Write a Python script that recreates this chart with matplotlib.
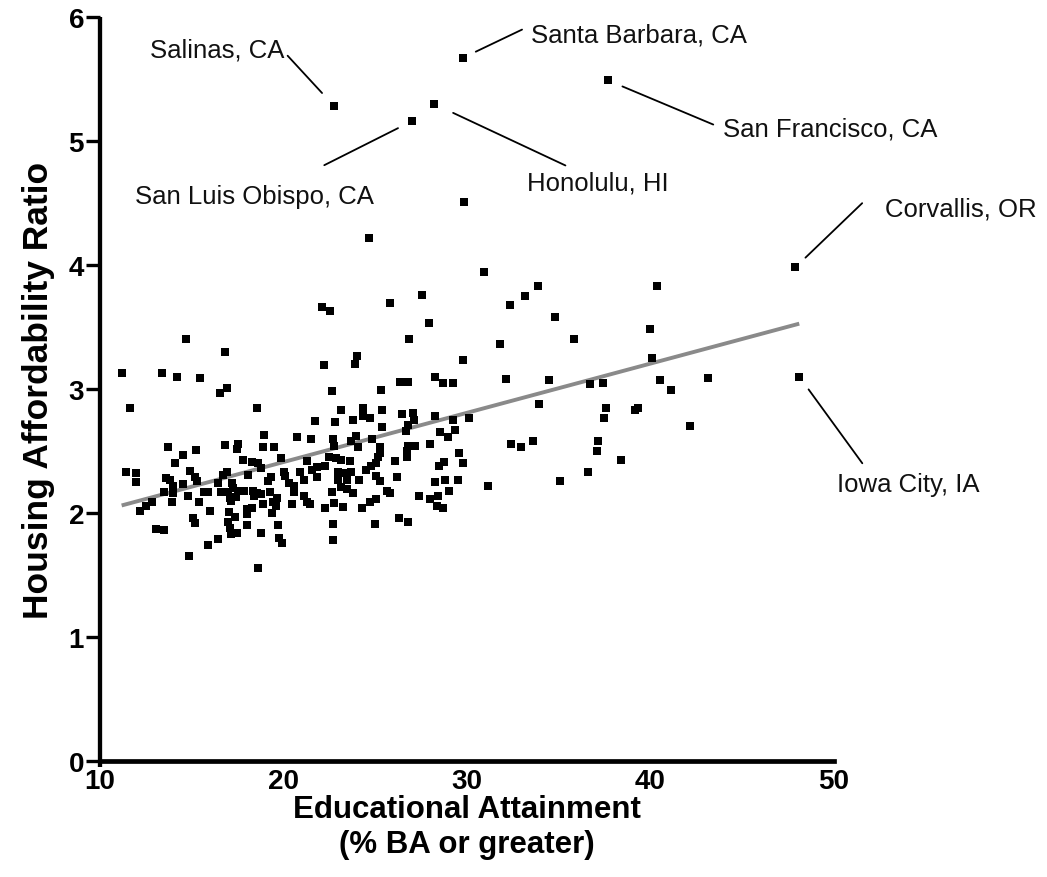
"""
  Housing affordability ratio vs educational attainment, scatter + fit line
"""

import numpy as np
import matplotlib
matplotlib.use("Agg")
import matplotlib.pyplot as plt


# % BA or greater, unlabeled metro areas
edu = [14.70, 16.80, 11.18, 13.38, 14.21, 15.47, 16.94, 16.56, 11.64, 18.54,
       18.94, 20.72, 13.69, 15.25, 16.80, 17.52, 17.48, 18.87, 19.47, 14.52,
       14.09, 17.79, 18.27, 18.59, 19.86, 11.42, 11.95, 11.98, 14.92, 15.16,
       15.29, 13.61, 13.83, 16.92, 16.70, 18.05, 18.77, 20.01, 20.10, 20.92,
       19.32, 19.14, 13.96, 14.52, 13.50, 13.96, 16.41, 17.18, 17.23, 16.59,
       16.98, 17.50, 17.86, 18.34, 18.56, 18.77, 19.28, 20.28, 20.56, 20.59,
       15.90, 15.65, 14.81, 12.82, 12.49, 12.20, 13.92, 15.38, 17.07, 17.41,
       17.14, 18.38, 18.87, 19.44, 19.63, 20.46, 16.00, 17.04, 17.36, 18.00,
       18.27, 18.00, 19.36, 19.59, 15.08, 15.19, 16.95, 17.07, 17.16, 17.47,
       18.00, 19.72, 18.77, 13.05, 13.50, 16.45, 15.87, 19.74, 19.92, 14.87,
       18.59,
       26.82, 23.99, 23.90, 22.19, 29.78, 26.37, 26.80, 28.26, 28.71, 29.22,
       22.66, 25.30, 23.15, 24.32, 24.32, 24.73, 25.37, 26.48, 27.06, 27.13,
       21.72, 22.82, 23.80, 28.24, 30.13, 29.26, 26.80, 25.37, 26.68, 21.48,
       22.68, 23.97, 23.68, 24.84, 28.53, 28.98, 29.35, 22.74, 24.04, 25.28,
       25.28, 26.80, 27.18, 26.72, 28.00, 26.73, 22.50, 22.86, 23.13, 23.63,
       21.27, 22.28, 25.15, 25.06, 24.77, 24.51, 26.08, 29.58, 29.77, 28.73,
       28.45, 21.55, 21.84, 21.10, 21.84, 22.95, 22.95, 23.41, 23.68, 23.46,
       24.12, 25.03, 25.28, 26.20, 28.27, 28.82, 29.53, 31.15, 23.13, 23.46,
       23.79, 22.66, 25.64, 25.82, 29.04, 21.13, 21.27, 21.46, 22.77, 23.23,
       22.28, 24.30, 24.70, 25.06, 27.40, 28.00, 28.40, 28.35, 28.71, 22.70,
       24.99, 26.31, 26.80, 22.70,
       30.91, 33.85, 33.16, 32.35, 34.78, 31.80, 35.85, 40.37, 39.98, 40.07,
       32.11, 34.45, 36.69, 37.41, 40.52, 41.10, 43.15, 33.93, 37.59, 37.48,
       39.16, 39.34, 42.17, 32.40, 32.94, 33.62, 37.12, 37.09, 38.40, 36.58,
       35.09,
       29.84, 24.66, 22.08, 22.52, 25.81, 27.53, 27.95]

# housing affordability ratio, same order
ratio = [3.40, 3.30, 3.13, 3.13, 3.10, 3.09, 3.01, 2.97, 2.85, 2.85,
         2.63, 2.61, 2.53, 2.51, 2.55, 2.56, 2.52, 2.53, 2.53, 2.47,
         2.40, 2.43, 2.41, 2.40, 2.44, 2.33, 2.32, 2.25, 2.34, 2.29,
         2.26, 2.28, 2.27, 2.33, 2.31, 2.31, 2.36, 2.33, 2.30, 2.33,
         2.29, 2.26, 2.22, 2.23, 2.17, 2.16, 2.24, 2.24, 2.20, 2.17,
         2.17, 2.18, 2.18, 2.18, 2.16, 2.15, 2.17, 2.24, 2.22, 2.17,
         2.17, 2.17, 2.14, 2.09, 2.06, 2.02, 2.09, 2.09, 2.12, 2.13,
         2.10, 2.14, 2.07, 2.09, 2.12, 2.07, 2.02, 2.01, 1.97, 2.03,
         2.04, 1.99, 2.00, 2.06, 1.96, 1.92, 1.93, 1.88, 1.83, 1.84,
         1.90, 1.90, 1.84, 1.87, 1.86, 1.79, 1.74, 1.80, 1.76, 1.65,
         1.56,
         3.40, 3.27, 3.20, 3.19, 3.23, 3.06, 3.06, 3.10, 3.05, 3.05,
         2.98, 2.99, 2.83, 2.85, 2.78, 2.77, 2.83, 2.80, 2.81, 2.75,
         2.74, 2.73, 2.75, 2.78, 2.77, 2.75, 2.71, 2.69, 2.66, 2.60,
         2.60, 2.62, 2.58, 2.60, 2.65, 2.61, 2.67, 2.54, 2.53, 2.53,
         2.48, 2.54, 2.54, 2.50, 2.56, 2.45, 2.45, 2.44, 2.43, 2.42,
         2.42, 2.38, 2.45, 2.40, 2.38, 2.35, 2.42, 2.48, 2.40, 2.41,
         2.38, 2.35, 2.37, 2.27, 2.29, 2.33, 2.27, 2.32, 2.33, 2.27,
         2.27, 2.30, 2.26, 2.29, 2.25, 2.27, 2.27, 2.22, 2.21, 2.19,
         2.16, 2.17, 2.18, 2.16, 2.18, 2.14, 2.09, 2.07, 2.08, 2.05,
         2.04, 2.04, 2.09, 2.11, 2.14, 2.11, 2.14, 2.06, 2.04, 1.91,
         1.91, 1.96, 1.93, 1.78,
         3.94, 3.83, 3.75, 3.68, 3.58, 3.36, 3.40, 3.83, 3.48, 3.25,
         3.08, 3.07, 3.04, 3.05, 3.07, 2.99, 3.09, 2.88, 2.85, 2.77,
         2.83, 2.85, 2.70, 2.56, 2.53, 2.58, 2.58, 2.50, 2.43, 2.33,
         2.26,
         4.51, 4.22, 3.66, 3.63, 3.69, 3.76, 3.53]

# labeled outliers
city_names = ["Salinas, CA", "Santa Barbara, CA", "San Francisco, CA",
              "San Luis Obispo, CA", "Honolulu, HI", "Corvallis, OR",
              "Iowa City, IA"]
city_edu = [22.77, 29.77, 37.67, 27.00, 28.19, 47.89, 48.11]
city_ratio = [5.28, 5.67, 5.49, 5.16, 5.30, 3.98, 3.10]

# linear fit
fit_intercept = 1.617
fit_slope = 0.0397

x_ticks = [10, 20, 30, 40, 50]
y_ticks = [0, 1, 2, 3, 4, 5, 6]


# fonts
plain = ['Liberation Sans', 'DejaVu Sans']
plt.rcParams['font.family'] = plain


fig = plt.figure(figsize=(10.47, 8.78), dpi=100)
ax = fig.add_axes([0.0955, 0.1321, 0.7010, 0.8474])


all_x = np.array(edu + city_edu)
all_y = np.array(ratio + city_ratio)

# fit line over data range
xs = np.array([all_x.min(), all_x.max()])
ax.plot(xs, fit_intercept + fit_slope * xs, color='#8a8a8a', linewidth=2.8,
        zorder=2, solid_capstyle='butt')

# points
ax.plot(all_x, all_y, linestyle='none', marker='s', markersize=5.6,
        color='black', markeredgewidth=0, zorder=3)


# leader-line offsets (points) for each label: text pos, line start, gap
label_style = {
    "Salinas, CA":         dict(text=(-36.2, 42.7), ha='right', line=(-33.6, 36.4), gap=13.0),
    "Santa Barbara, CA":   dict(text=(49.2, 18.9), ha='left', line=(42.7, 20.4), gap=10.4),
    "San Francisco, CA":   dict(text=(83.2, -33.1), ha='left', line=(76.0, -31.9), gap=11.5),
    "San Luis Obispo, CA": dict(text=(-27.4, -51.8), ha='right', line=(-63.1, -31.7), gap=11.2),
    "Honolulu, HI":        dict(text=(67.2, -54.7), ha='left', line=(94.8, -44.4), gap=15.4),
    "Corvallis, OR":       dict(text=(64.3, 44.4), ha='left', line=(48.2, 46.3), gap=10.2),
    "Iowa City, IA":       dict(text=(26.9, -75.2), ha='left', line=(45.4, -62.4), gap=11.4),
}

for name, cx, cy in zip(city_names, city_edu, city_ratio):
    st = label_style[name]
    ax.annotate('', xy=(cx, cy), xytext=st['line'], textcoords='offset points',
                arrowprops=dict(arrowstyle='-', color='black', lw=1.3,
                                shrinkA=0, shrinkB=st['gap']),
                annotation_clip=False)
    ax.annotate(name, xy=(cx, cy), xytext=st['text'], textcoords='offset points',
                ha=st['ha'], va='center_baseline', fontsize=18.5,
                color='#111111', annotation_clip=False)


# axes setup
ax.set_xlim(10, 50)
ax.set_ylim(0, 6)
ax.set_xticks(x_ticks)
ax.set_yticks(y_ticks)

for side in ['top', 'right']:
    ax.spines[side].set_visible(False)
ax.spines['left'].set_linewidth(3.1)
ax.spines['bottom'].set_linewidth(3.4)
# y axis pokes a little below the x axis, like the original
ax.spines['left'].set_bounds(-0.045, 6)
ax.spines['left'].set_capstyle('butt')

ax.tick_params(axis='y', direction='out', length=10, width=2.4, pad=1.5,
               labelsize=20)
ax.tick_params(axis='x', direction='out', length=0, pad=5, labelsize=20)
for lab in ax.get_xticklabels() + ax.get_yticklabels():
    lab.set_fontweight('bold')


# labels
ax.set_xlabel("Educational Attainment\n(% BA or greater)",
              fontweight='bold', fontsize=22.5, linespacing=1.22, labelpad=0)
ax.set_ylabel("Housing Affordability Ratio",
              fontweight='bold', fontsize=25.5, labelpad=10)


fig.savefig('out.png', dpi=100)
